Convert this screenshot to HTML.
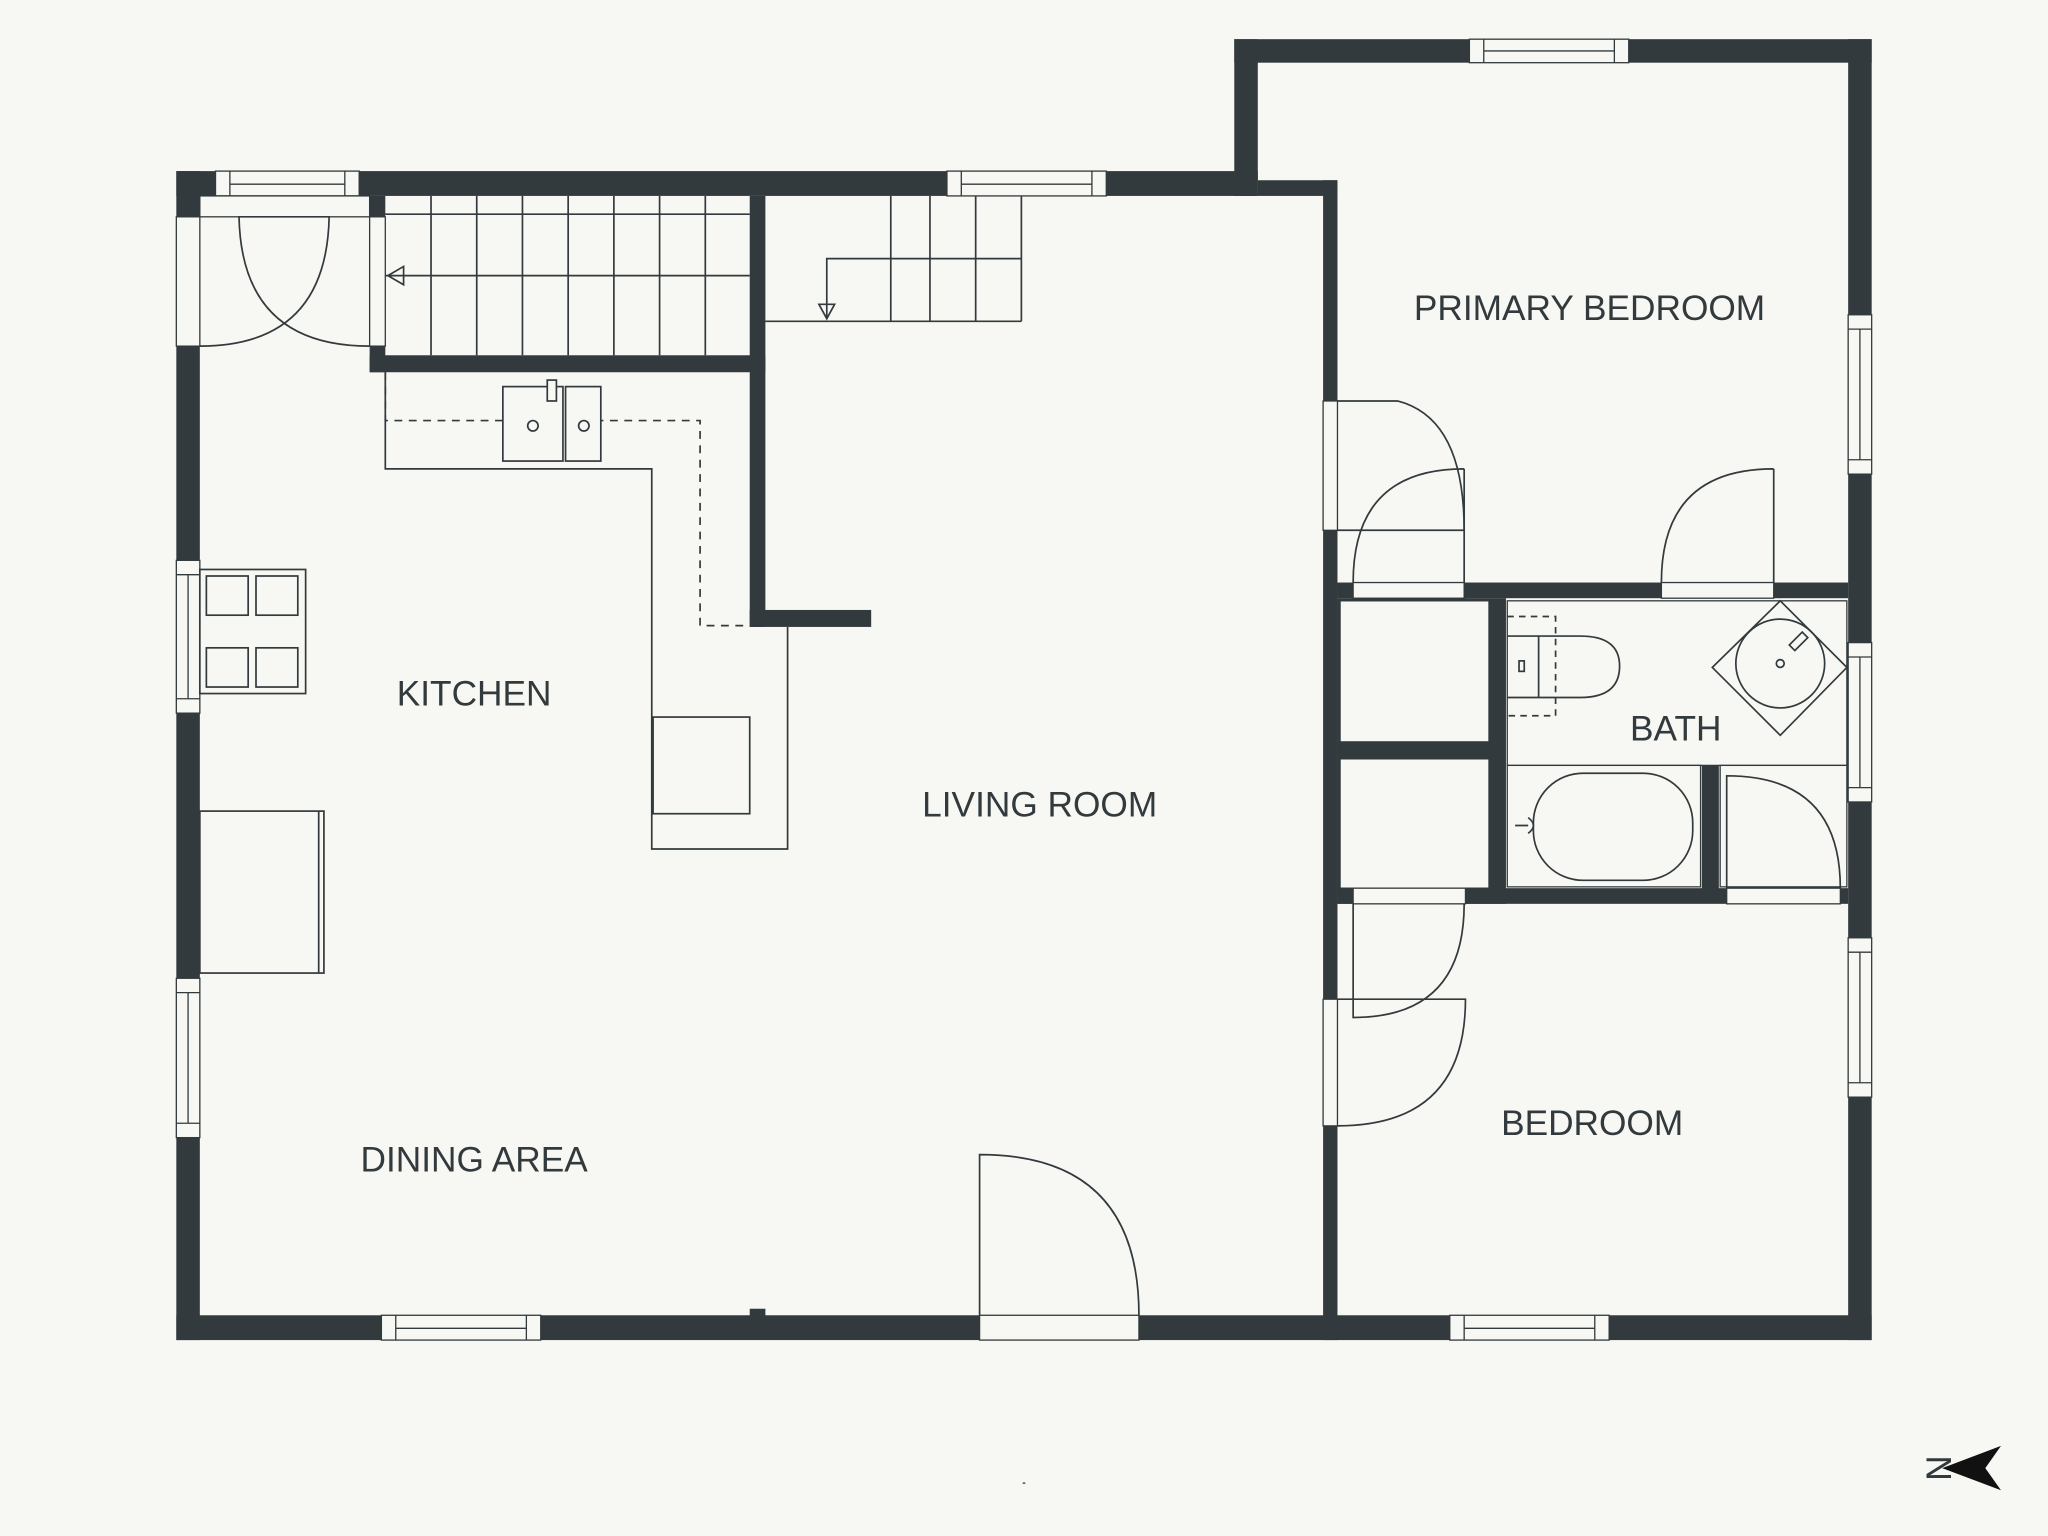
<!DOCTYPE html>
<html><head><meta charset="utf-8"><style>
html,body{margin:0;padding:0;background:#f7f8f3;}
svg{display:block;}
text{font-family:"Liberation Sans",sans-serif;fill:#333a3d;font-size:27px;}
</style></head><body>
<svg width="2048" height="1536" viewBox="0 0 1568 1176" xmlns="http://www.w3.org/2000/svg">
<rect width="1568" height="1176" fill="#f7f8f3"/>
<g fill="#333a3d">
<rect x="135" y="131" width="18" height="895"/>
<rect x="135" y="131" width="828" height="19"/>
<rect x="945" y="30" width="18" height="120"/>
<rect x="945" y="30" width="488" height="18"/>
<rect x="963" y="138" width="61" height="12"/>
<rect x="1415" y="30" width="18" height="996"/>
<rect x="135" y="1007" width="1298" height="19"/>
<rect x="1013" y="138" width="11" height="888"/>
<rect x="1024" y="446" width="391" height="12"/>
<rect x="1024" y="680" width="391" height="12"/>
<rect x="1024" y="458" width="129" height="234"/>
<rect x="1303" y="586" width="13" height="100"/>
<rect x="283" y="150" width="12" height="135"/>
<rect x="283" y="272" width="303" height="13"/>
<rect x="574" y="150" width="12" height="330"/>
<rect x="574" y="467" width="93" height="13"/>
<rect x="574" y="1002" width="12" height="6"/>
</g>
<g fill="#f7f8f3" stroke="#333a3d" stroke-width="1">
<rect x="1026" y="460" width="114" height="108"/>
<rect x="1026" y="581" width="114" height="99"/>
<rect x="1154" y="460" width="260" height="126"/>
<rect x="1154" y="586" width="148" height="93"/>
<rect x="1317" y="586" width="97" height="93"/>
<rect x="165" y="131" width="110" height="19"/><line x1="176" y1="131" x2="176" y2="150"/><line x1="264" y1="131" x2="264" y2="150"/><line x1="176" y1="141" x2="264" y2="141"/>
<rect x="725" y="131" width="122" height="19"/><line x1="736" y1="131" x2="736" y2="150"/><line x1="836" y1="131" x2="836" y2="150"/><line x1="736" y1="141" x2="836" y2="141"/>
<rect x="1125" y="30" width="122" height="18"/><line x1="1136" y1="30" x2="1136" y2="48"/><line x1="1236" y1="30" x2="1236" y2="48"/><line x1="1136" y1="39" x2="1236" y2="39"/>
<rect x="292" y="1007" width="122" height="19"/><line x1="303" y1="1007" x2="303" y2="1026"/><line x1="403" y1="1007" x2="403" y2="1026"/><line x1="303" y1="1017" x2="403" y2="1017"/>
<rect x="1110" y="1007" width="122" height="19"/><line x1="1121" y1="1007" x2="1121" y2="1026"/><line x1="1221" y1="1007" x2="1221" y2="1026"/><line x1="1121" y1="1017" x2="1221" y2="1017"/>
<rect x="1415" y="241" width="18" height="122"/><line x1="1415" y1="252" x2="1433" y2="252"/><line x1="1415" y1="352" x2="1433" y2="352"/><line x1="1424" y1="252" x2="1424" y2="352"/>
<rect x="1415" y="492" width="18" height="122"/><line x1="1415" y1="503" x2="1433" y2="503"/><line x1="1415" y1="603" x2="1433" y2="603"/><line x1="1424" y1="503" x2="1424" y2="603"/>
<rect x="1415" y="718" width="18" height="122"/><line x1="1415" y1="729" x2="1433" y2="729"/><line x1="1415" y1="829" x2="1433" y2="829"/><line x1="1424" y1="729" x2="1424" y2="829"/>
<rect x="135" y="429" width="18" height="117"/><line x1="135" y1="440" x2="153" y2="440"/><line x1="135" y1="535" x2="153" y2="535"/><line x1="144" y1="440" x2="144" y2="535"/>
<rect x="135" y="749" width="18" height="122"/><line x1="135" y1="760" x2="153" y2="760"/><line x1="135" y1="860" x2="153" y2="860"/><line x1="144" y1="760" x2="144" y2="860"/>
<rect x="135" y="166" width="18" height="99"/>
<rect x="153" y="150" width="130" height="16"/>
<rect x="283" y="166" width="12" height="99"/>
<rect x="750" y="1007" width="122" height="19"/>
<rect x="1013" y="307" width="11" height="99"/>
<rect x="1013" y="765" width="11" height="97"/>
<rect x="1036" y="446" width="85" height="12"/>
<rect x="1272" y="446" width="86" height="12"/>
<rect x="1036" y="680" width="86" height="12"/>
<rect x="1322" y="680" width="87" height="12"/>
</g>
<g fill="none" stroke="#333a3d" stroke-width="1.3">
<path d="M153,265 Q250,265 252,166 H183 Q185,265 283,265"/>
<path d="M750,1007 V884 Q872,884 872,1007"/>
<path d="M1024,307 H1070 Q1121,320 1121,406 H1024"/>
<path d="M1121,359 V446 M1036,446 Q1036,359 1121,359"/>
<path d="M1358,359 V446 M1272,446 Q1272,359 1358,359"/>
<path d="M1036,692 V779 Q1121,779 1121,692"/>
<path d="M1024,765 H1122 Q1122,862 1024,862"/>
<path d="M1322,680 V594 Q1409,594 1409,680"/>
<line x1="295" y1="164" x2="574" y2="164"/>
<line x1="295" y1="211" x2="574" y2="211"/>
<path d="M297,211 L309,204 L309,218 Z"/>
<line x1="330" y1="150" x2="330" y2="272"/><line x1="365" y1="150" x2="365" y2="272"/><line x1="400" y1="150" x2="400" y2="272"/><line x1="435" y1="150" x2="435" y2="272"/><line x1="470" y1="150" x2="470" y2="272"/><line x1="505" y1="150" x2="505" y2="272"/><line x1="540" y1="150" x2="540" y2="272"/>
<line x1="586" y1="246" x2="782" y2="246"/>
<line x1="682" y1="150" x2="682" y2="246"/><line x1="712" y1="150" x2="712" y2="246"/><line x1="747" y1="150" x2="747" y2="246"/><line x1="782" y1="150" x2="782" y2="246"/>
<path d="M782,198 H633 V244"/>
<path d="M633,244 L627,233 H639 Z"/>
<path d="M295,285 V359 H499 V650 H603 V480"/>
<path d="M295,285 V322 H536 V479 H574" stroke-dasharray="6,5"/>
<rect x="385" y="296" width="46" height="57" fill="#f7f8f3"/>
<rect x="433" y="296" width="27" height="57" fill="#f7f8f3"/>
<rect x="419" y="291" width="7" height="16" fill="#f7f8f3"/>
<circle cx="408" cy="326" r="4"/><circle cx="447" cy="326" r="4"/>
<rect x="500" y="549" width="74" height="74"/>
<rect x="153" y="436" width="81" height="95"/>
<rect x="158" y="441" width="32" height="30"/><rect x="196" y="441" width="32" height="30"/>
<rect x="158" y="496" width="32" height="30"/><rect x="196" y="496" width="32" height="30"/>
<rect x="153" y="621" width="95" height="124"/><line x1="244" y1="621" x2="244" y2="745"/>
<path d="M1154,472 H1191 V548 H1154" stroke-dasharray="5,4"/>
<path d="M1154,487 H1210 Q1240,487 1240,510 Q1240,534 1210,534 H1154"/>
<line x1="1178" y1="487" x2="1178" y2="534"/>
<rect x="1163" y="506" width="4" height="8"/>
<path d="M1363,460 L1414,511 L1363,563 L1311,511 Z"/>
<circle cx="1363" cy="508" r="34"/>
<circle cx="1363" cy="508" r="3"/>
<rect x="1374" y="484" width="6" height="14" transform="rotate(45 1377 491)"/>
<rect x="1174" y="592" width="122" height="82" rx="38"/>
<path d="M1160,632 H1170 M1170,626 Q1178,632 1170,638"/>
</g>
<text x="363" y="540" text-anchor="middle">KITCHEN</text>
<text x="796" y="625" text-anchor="middle">LIVING ROOM</text>
<text x="363" y="897" text-anchor="middle">DINING AREA</text>
<text x="1217" y="245" text-anchor="middle">PRIMARY BEDROOM</text>
<text x="1283" y="567" text-anchor="middle">BATH</text>
<text x="1219" y="869" text-anchor="middle">BEDROOM</text>
<path d="M1487,1124 L1532,1107 L1520,1124 L1532,1141 Z" fill="#111"/>
<text x="1475" y="1124" font-size="8" transform="rotate(90 1475 1124)" text-anchor="middle">N</text>
<rect x="783" y="1135" width="2" height="1" fill="#333"/>
</svg>
</body></html>
